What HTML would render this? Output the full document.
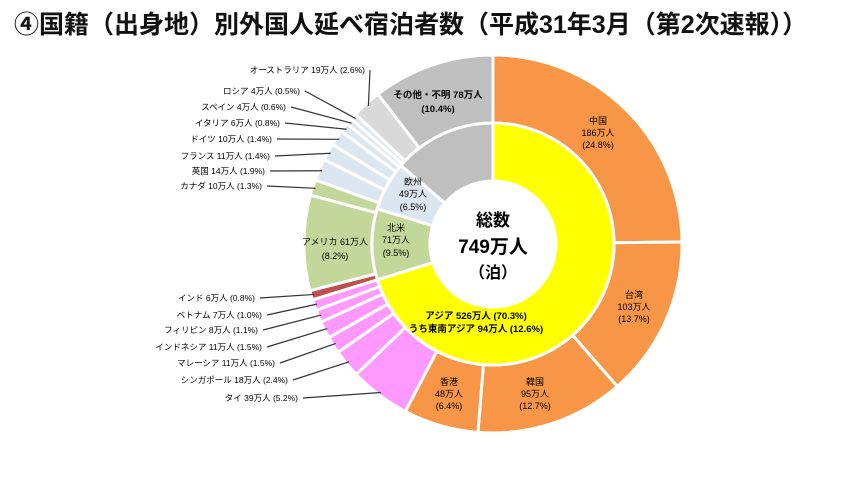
<!DOCTYPE html>
<html><head><meta charset="utf-8">
<style>
body{margin:0;background:#fff;width:845px;height:473px;overflow:hidden;font-family:"Liberation Sans","Noto Sans CJK JP",sans-serif}
svg text{font-family:"Liberation Sans","Noto Sans CJK JP",sans-serif}
</style></head><body>
<svg id="chart" width="845" height="473">
<text x="14" y="33" font-size="25" font-weight="bold" fill="#111">④国籍（出身地）別外国人延べ宿泊者数（平成31年3月（第2次速報））</text>
<g id="outer"></g>
<g id="inner"></g>
<g id="labels"></g>
<circle cx="493" cy="244" r="63" fill="#fff"/>
<text x="493" y="226" font-size="17" font-weight="bold" text-anchor="middle">総数</text>
<text x="493" y="253" font-size="19" font-weight="bold" text-anchor="middle">749万人</text>
<text x="493" y="278" font-size="16" font-weight="bold" text-anchor="middle">（泊）</text>
</svg>
<script>
const outerNames=["中国","台湾","韓国","香港","タイ","シンガポール","マレーシア","インドネシア","フィリピン","ベトナム","インド","アメリカ","カナダ","英国","フランス","ドイツ","イタリア","スペイン","ロシア","オーストラリア","その他・不明"];
const outerValues=[186,103,95,48,39,18,11,11,8,7,6,61,10,14,11,10,6,4,4,19,78];
const outerPcts=["24.8%","13.7%","12.7%","6.4%","5.2%","2.4%","1.5%","1.5%","1.1%","1.0%","0.8%","8.2%","1.3%","1.9%","1.4%","1.4%","0.8%","0.6%","0.5%","2.6%","10.4%"];
const outerColors=["#F79646","#F79646","#F79646","#F79646","#FF99FF","#FF99FF","#FF99FF","#FF99FF","#FF99FF","#FF99FF","#C0504D","#C4D79B","#C4D79B","#DCE6F1","#DCE6F1","#DCE6F1","#DCE6F1","#DCE6F1","#DCE6F1","#D9D9D9","#BFBFBF"];
const innerNames=["アジア","北米","欧州","その他"];
const innerValues=[526,71,49,103];
const innerColors=["#FFFF00","#C4D79B","#DCE6F1","#BFBFBF"];
const CX=493,CY=244,R1=189,R2=121,R3=63;
const NS="http://www.w3.org/2000/svg";
function pt(f,r){const t=f*2*Math.PI;return [CX+r*Math.sin(t),CY-r*Math.cos(t)];}
function arc(f0,f1,ro,ri){const a=pt(f0,ro),b=pt(f1,ro),c=pt(f1,ri),d=pt(f0,ri);const l=(f1-f0)>0.5?1:0;
return `M${a[0]},${a[1]}A${ro},${ro} 0 ${l} 1 ${b[0]},${b[1]}L${c[0]},${c[1]}A${ri},${ri} 0 ${l} 0 ${d[0]},${d[1]}Z`;}
function ring(g,vals,cols,names,ro,ri,prefix){const tot=vals.reduce((a,b)=>a+b,0);let c=0;const mids=[];
vals.forEach((v,i)=>{const f0=c/tot,f1=(c+v)/tot;c+=v;const p=document.createElementNS(NS,"path");
p.setAttribute("d",arc(f0,f1,ro,ri));p.setAttribute("fill",cols[i]);p.setAttribute("stroke","#fff");p.setAttribute("stroke-width","3");


g.appendChild(p);mids.push((f0+f1)/2);});return mids;}
const om=ring(document.getElementById("outer"),outerValues,outerColors,outerNames,R1,R2,"outer");
ring(document.getElementById("inner"),innerValues,innerColors,innerNames,R2,R3,"inner");
const L=document.getElementById("labels");
function txt(x,y,s,anchor,size,bold){const t=document.createElementNS(NS,"text");t.setAttribute("x",x);t.setAttribute("y",y);t.setAttribute("font-size",size||9);t.setAttribute("text-anchor",anchor||"middle");if(bold)t.setAttribute("font-weight","bold");t.textContent=s;


L.appendChild(t);return t;}
// inside labels (3-line)
const inside={0:[598,124],1:[634,298],2:[535,385],3:[449,385]};
for(const k in inside){const [x,y]=inside[k];txt(x,y,outerNames[k]);txt(x,y+12,outerValues[k]+"万人");txt(x,y+24,"("+outerPcts[k]+")");}
// outside labels with leader lines: index -> [textEndX, y]
const outside={19:[365,73],18:[300,94],17:[286,110],16:[280,126],15:[272,142],14:[270,159],13:[265,174],12:[262,189],10:[255,301],9:[262,318],8:[258,333],7:[262,350],6:[275,366],5:[288,383],4:[298,401]};
for(const k in outside){const [x,y]=outside[k];txt(x,y,outerNames[k]+" "+outerValues[k]+"万人 ("+outerPcts[k]+")","end",8.5);
const e=pt(om[k],R1-3);const ln=document.createElementNS(NS,"line");ln.setAttribute("x1",x+5);ln.setAttribute("y1",y-3);ln.setAttribute("x2",e[0]);ln.setAttribute("y2",e[1]);ln.setAttribute("stroke","#333");ln.setAttribute("stroke-width","1.2");


L.appendChild(ln);}
txt(438,98,outerNames[20]+" "+outerValues[20]+"万人","middle",9.5,true);txt(438,112,"("+outerPcts[20]+")","middle",9.5,true);
txt(335,245,outerNames[11]+" "+outerValues[11]+"万人");txt(335,259,"("+outerPcts[11]+")");
txt(413,185,"欧州");txt(413,197,"49万人");txt(413,210,"(6.5%)");
txt(396,231,"北米");txt(396,243,"71万人");txt(396,256,"(9.5%)");
txt(476,319,"アジア 526万人 (70.3%)","middle",9.5,true);txt(476,332,"うち東南アジア 94万人 (12.6%)","middle",9.5,true);
</script>
</body></html>
